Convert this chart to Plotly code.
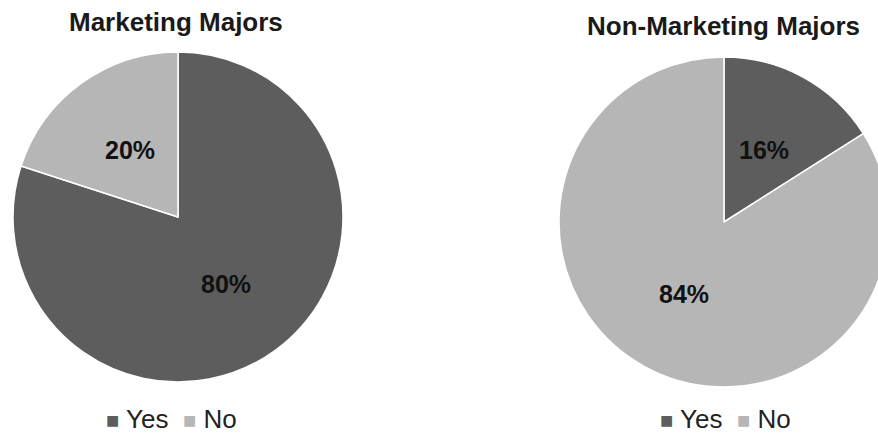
import math
import plotly.graph_objects as go

# ---- data ----
labels = ["Yes", "No"]
marketing_values = [80, 20]
non_marketing_values = [16, 84]
titles = ["Marketing Majors", "Non-Marketing Majors"]
colors = ["#5d5d5d", "#b6b6b6"]

W, H = 896, 435
FONT = "Liberation Sans, Arial, sans-serif"


def px_x(x):
    return x / W


def px_y(y):
    return 1 - y / H


r = 165
centers = [(178, 217), (724, 222)]
series = [marketing_values, non_marketing_values]

fig = go.Figure()
annotations = []
for (cx, cy), vals in zip(centers, series):
    fig.add_trace(go.Pie(
        labels=labels,
        values=vals,
        sort=False,
        direction="clockwise",
        rotation=0,
        marker=dict(colors=colors, line=dict(color="white", width=1.5)),
        textinfo="none",
        domain=dict(x=[px_x(cx - r), px_x(cx + r)], y=[px_y(cy + r), px_y(cy - r)]),
        showlegend=False,
        hoverinfo="label+percent",
    ))
    # percentage labels placed at half radius along each slice's mid-angle
    total = sum(vals)
    start = 0.0
    for v in vals:
        frac = v / total
        mid = (start + frac / 2) * 2 * math.pi
        start += frac
        lx = cx + 0.5 * r * math.sin(mid)
        ly = cy - 0.5 * r * math.cos(mid)
        annotations.append(dict(
            text=f"<b>{round(frac * 100)}%</b>", x=px_x(lx), y=px_y(ly),
            xref="paper", yref="paper", showarrow=False,
            xanchor="center", yanchor="middle",
            font=dict(family=FONT, size=25, color="#111111"),
        ))

title_pos = [(176, 22), (723, 26)]
for t, (tx, ty) in zip(titles, title_pos):
    annotations.append(dict(
        text=f"<b>{t}</b>", x=px_x(tx), y=px_y(ty), xref="paper", yref="paper",
        showarrow=False, xanchor="center", yanchor="middle",
        font=dict(family=FONT, size=26, color="#1a1a1a"),
    ))

legend_text = "  ".join(
    f"<span style='color:{c}; font-size:22px'>■</span> {lab}" for lab, c in zip(labels, colors)
)
for lx in [171, 725]:
    annotations.append(dict(
        text=legend_text, x=px_x(lx), y=px_y(419), xref="paper", yref="paper",
        showarrow=False, xanchor="center", yanchor="middle", borderpad=0,
        font=dict(family=FONT, size=26, color="#222222"),
    ))

fig.update_layout(
    width=W, height=H, autosize=False,
    margin=dict(l=0, r=0, t=0, b=0),
    paper_bgcolor="white", plot_bgcolor="white",
    annotations=annotations,
)

fig.write_html(
    "out.html",
    post_script="document.body.style.margin='0';document.body.style.overflow='hidden';document.documentElement.style.overflow='hidden';",
)
